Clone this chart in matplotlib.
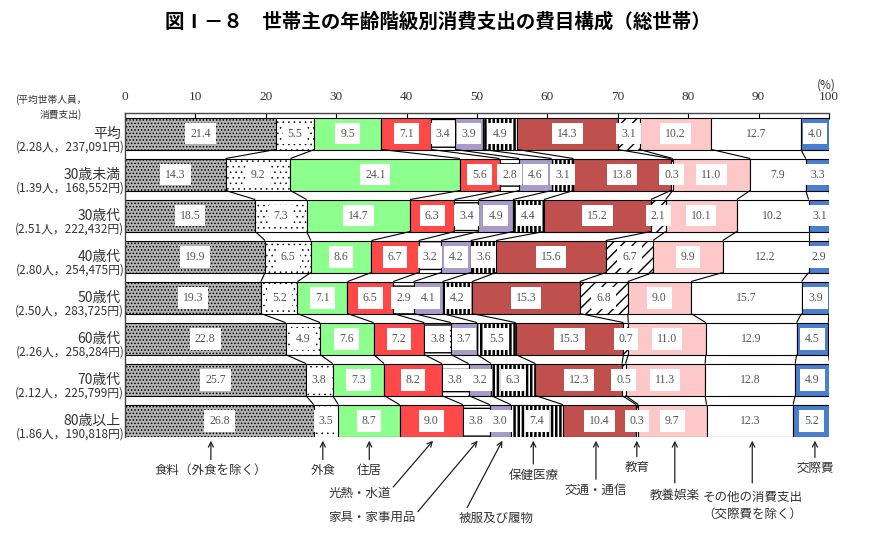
import matplotlib
matplotlib.use("Agg")
import matplotlib.pyplot as plt
import numpy as np

plt.rcParams['font.family'] = ['Noto Sans CJK JP', 'DejaVu Sans']
plt.rcParams['hatch.linewidth'] = 1.0

title = "図Ⅰ－８　世帯主の年齢階級別消費支出の費目構成（総世帯）"

groups = ["平均", "30歳未満", "30歳代", "40歳代", "50歳代", "60歳代", "70歳代", "80歳以上"]
sublabels = ["(2.28人，237,091円)", "(1.39人，168,552円)", "(2.51人，222,432円)",
             "(2.80人，254,475円)", "(2.50人，283,725円)", "(2.26人，258,284円)",
             "(2.12人，225,799円)", "(1.86人，190,818円)"]

categories = ["食料（外食を除く）", "外食", "住居", "光熱・水道", "家具・家事用品",
              "被服及び履物", "保健医療", "交通・通信", "教育", "教養娯楽",
              "その他の消費支出\n（交際費を除く）", "交際費"]

food      = [21.4, 14.3, 18.5, 19.9, 19.3, 22.8, 25.7, 26.8]
eating    = [5.5, 9.2, 7.3, 6.5, 5.2, 4.9, 3.8, 3.5]
housing   = [9.5, 24.1, 14.7, 8.6, 7.1, 7.6, 7.3, 8.7]
utilities = [7.1, 5.6, 6.3, 6.7, 6.5, 7.2, 8.2, 9.0]
furniture = [3.4, 2.8, 3.4, 3.2, 2.9, 3.8, 3.8, 3.8]
clothing  = [3.9, 4.6, 4.9, 4.2, 4.1, 3.7, 3.2, 3.0]
medical   = [4.9, 3.1, 4.4, 3.6, 4.2, 5.5, 6.3, 7.4]
transport = [14.3, 13.8, 15.2, 15.6, 15.3, 15.3, 12.3, 10.4]
education = [3.1, 0.3, 2.1, 6.7, 6.8, 0.7, 0.5, 0.3]
culture   = [10.2, 11.0, 10.1, 9.9, 9.0, 11.0, 11.3, 9.7]
other     = [12.7, 7.9, 10.2, 12.2, 15.7, 12.9, 12.8, 12.3]
social    = [4.0, 3.3, 3.1, 2.9, 3.9, 4.5, 4.9, 5.2]

series = [food, eating, housing, utilities, furniture, clothing, medical,
          transport, education, culture, other, social]

ticks = [0, 10, 20, 30, 40, 50, 60, 70, 80, 90, 100]

# styles: (facecolor, hatch, hatch linewidth)
styles = [("#b4b4b4", ".....", 0.7), ("white", "...", 0.4), ("#8cff8c", None, 1.0),
          ("#ff4848", None, 1.0), ("white", "---", 1.0), ("#a99bc9", None, 1.0),
          ("white", "||||", 1.8), ("#c0504d", None, 1.0), ("white", "///", 1.0),
          ("#ffc8c8", None, 1.0), ("white", None, 1.0), ("#4a7fd0", None, 1.0)]

# annotation layout: (text x, text y, tail x, tail y, tip x) in data units
ann_layout = [
    (12.2, 8.21, 12.2, 7.95, 12.2),
    (28.1, 8.21, 28.1, 7.95, 28.1),
    (34.7, 8.21, 34.7, 7.95, 34.7),
    (33.4, 8.77, 38.1, 8.62, 43.75),
    (35.1, 9.35, 41.6, 9.22, 50.1),
    (52.7, 9.38, 48.6, 9.12, 53.6),
    (58.0, 8.33, 58.0, 8.06, 58.0),
    (66.9, 8.70, 66.9, 8.43, 66.9),
    (72.7, 8.14, 72.7, 7.88, 72.7),
    (78.1, 8.82, 78.1, 8.52, 78.1),
    (89.1, 9.07, 89.1, 8.52, 89.1),
    (98.0, 8.16, 98.0, 7.90, 98.0),
]

fig = plt.figure(figsize=(8.7, 5.45), dpi=100)
ax = fig.add_axes([125/870, 1-437/545, 704/870, 324/545])

n = len(groups)
y = np.arange(n)
h = 0.78
data = np.array(series)
cum = np.vstack([np.zeros(n), np.cumsum(data, axis=0)])

for k, vals in enumerate(series):
    fc, hatch, hlw = styles[k]
    with plt.rc_context({'hatch.linewidth': hlw}):
        bars = ax.barh(y, vals, left=cum[k], height=h, color=fc, hatch=hatch,
                       edgecolor="black", linewidth=0.8, zorder=2)
        for b in bars:
            try:
                b.set_hatch_linewidth(hlw)
            except Exception:
                pass
    for i in range(n):
        xc = cum[k][i] + vals[i] / 2
        ax.text(xc, y[i], f"{vals[i]:.1f}", ha="center", va="center",
                fontsize=8.5, color="#555555", family="Liberation Serif", zorder=4,
                bbox=dict(boxstyle="square,pad=0.42", fc="white", ec="none"))

# connectors between bars
for i in range(n - 1):
    for k in range(1, len(series) + 1):
        ax.plot([cum[k][i], cum[k][i + 1]], [y[i] + h / 2, y[i + 1] - h / 2],
                color="black", lw=0.8, zorder=3, solid_capstyle="butt")

ax.set_xlim(0, 100)
ax.set_ylim(n - 1 + 0.4, -0.5)
ax.xaxis.tick_top()
ax.set_xticks(ticks)
ax.set_xticklabels([str(t) for t in ticks], family="Liberation Serif", fontsize=9.5, color="#333333")
ax.tick_params(axis="x", direction="in", length=4, pad=7, width=0.8)
ax.set_yticks([])
for s in ["right", "bottom"]:
    ax.spines[s].set_visible(False)
ax.spines["top"].set_linewidth(1.0)
ax.spines["left"].set_linewidth(1.0)
ax.spines["top"].set_color("#444444")
ax.spines["left"].set_color("#444444")

# row labels
for i in range(n):
    ax.text(-0.6, y[i], groups[i], ha="right", va="center", fontsize=10, color="#333333")
    ax.text(-0.1, y[i] + 0.33, sublabels[i], ha="right", va="center", fontsize=8.5, color="#333333")

fig.text(15/870, 1-100/545, "(平均世帯人員，", fontsize=7, color="#333333", ha="left", va="center")
fig.text(40/870, 1-115/545, "消費支出)", fontsize=7, color="#333333", ha="left", va="center")
fig.text(826/870, 1-85/545, "(%)", fontsize=8.5, color="#333333", ha="center", va="center")
fig.text(438/870, 1-22/545, title, fontsize=14, fontweight="bold", ha="center", va="center")

# bottom annotations
tip_y = n - 1 + h / 2 + 0.1
for k, cat in enumerate(categories):
    tx, ty, ax_, ay_, px = ann_layout[k]
    ax.annotate("", xy=(px, tip_y), xytext=(ax_, ay_),
                arrowprops=dict(arrowstyle="->", lw=0.9, color="#222222",
                                shrinkA=0, shrinkB=0, mutation_scale=9),
                annotation_clip=False)
    ax.text(tx, ty, cat, ha="center", va="center", fontsize=9, color="#333333",
            clip_on=False, linespacing=1.4)

fig.savefig("out.png", dpi=100)
